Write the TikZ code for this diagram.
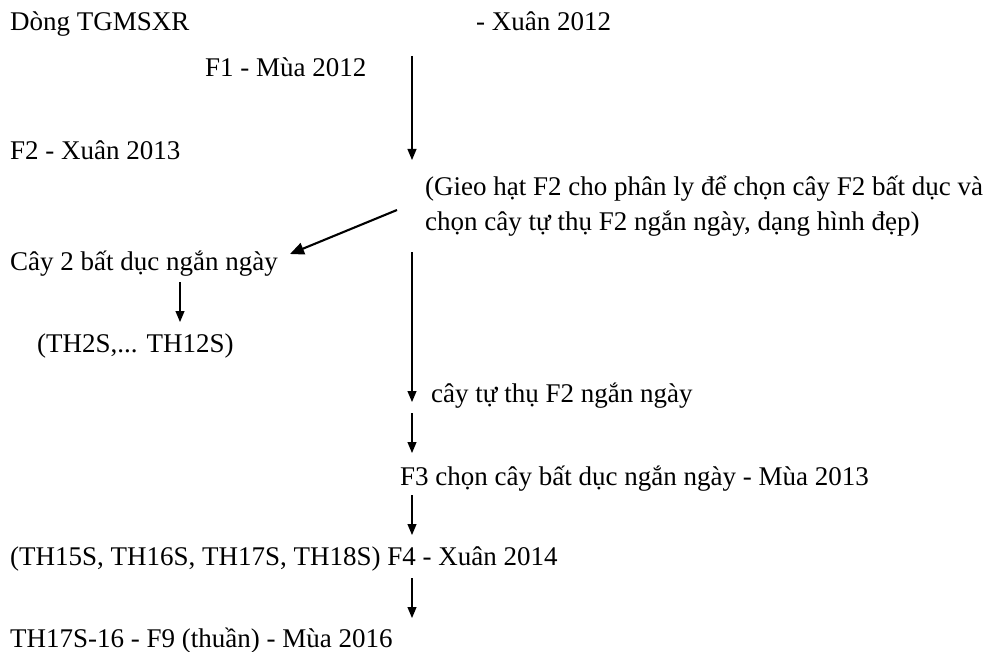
\documentclass[tikz,border=0pt]{standalone}
\usepackage{fontspec}
\setmainfont{Liberation Serif}
\usetikzlibrary{arrows.meta}
\begin{document}
\begin{tikzpicture}[x=1pt,y=-1pt,
  lbl/.style={anchor=base west,inner sep=0pt,font=\fontsize{27}{34}\selectfont},
  arr/.style={line width=1.1pt,-{Triangle[length=11pt,width=9pt]}},
  diagarr/.style={line width=2.1pt,-{Triangle[length=14pt,width=12pt]}}]
\useasboundingbox (0,0) rectangle (992,652);
\node[lbl] (dong) at (10,31) {Dòng TGMSXR};
\node[lbl] (xuan12) at (476,31) {- Xuân 2012};
\node[lbl] (f1) at (205,77) {F1 - Mùa 2012};
\node[lbl] (f2) at (10,160) {F2 - Xuân 2013};
\node[lbl] (gieo1) at (425,196) {(Gieo hạt F2 cho phân ly để chọn cây F2 bất dục và};
\node[lbl] (gieo2) at (425,230) {chọn cây tự thụ F2 ngắn ngày, dạng hình đẹp)};
\node[lbl] (cay2) at (10,270) {Cây 2 bất dục ngắn ngày};
\node[lbl] (th2) at (37,352) {(TH2S,... TH12S)};
\node[lbl] (tutho) at (431,402) {cây tự thụ F2 ngắn ngày};
\node[lbl] (f3) at (400,485) {F3 chọn cây bất dục ngắn ngày - Mùa 2013};
\node[lbl] (f4) at (10,565) {(TH15S, TH16S, TH17S, TH18S) F4 - Xuân 2014};
\node[lbl] (f9) at (10,647) {TH17S-16 - F9 (thuần) - Mùa 2016};
\coordinate (a1s) at (412,56);  \coordinate (a1e) at (412,160);
\coordinate (dgs) at (397,210); \coordinate (dge) at (290,254);
\coordinate (sms) at (180,282); \coordinate (sme) at (180,322);
\coordinate (a2s) at (412,252); \coordinate (a2e) at (412,402);
\coordinate (a3s) at (412,413); \coordinate (a3e) at (412,453);
\coordinate (a4s) at (412,495); \coordinate (a4e) at (412,535);
\coordinate (a5s) at (412,578); \coordinate (a5e) at (412,618);
\draw[arr] (a1s) -- (a1e);
\draw[diagarr] (dgs) -- (dge);
\draw[arr] (sms) -- (sme);
\draw[arr] (a2s) -- (a2e);
\draw[arr] (a3s) -- (a3e);
\draw[arr] (a4s) -- (a4e);
\draw[arr] (a5s) -- (a5e);
\end{tikzpicture}
\end{document}
